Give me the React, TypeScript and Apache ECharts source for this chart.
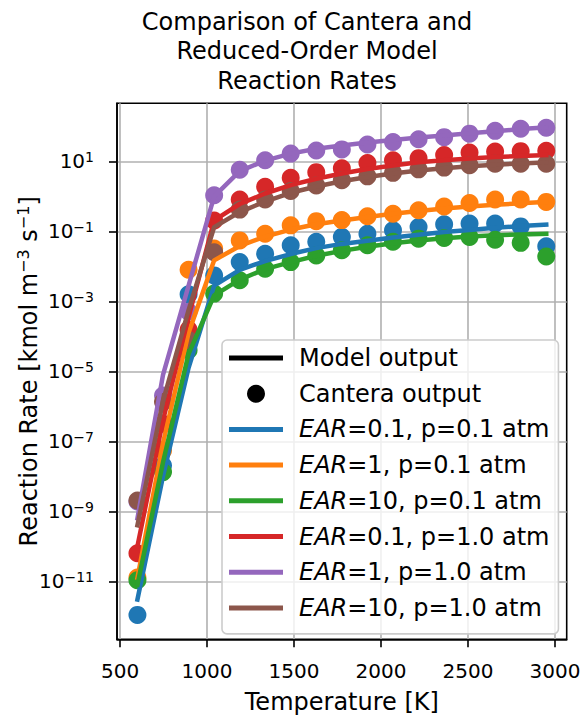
import React, { useEffect, useRef } from 'react';
import * as echarts from 'echarts';

// Temperatures [K] at which both model and Cantera were evaluated
const temperatureK = [600, 747, 894, 1041, 1188, 1334, 1481, 1628, 1775, 1922, 2069, 2216, 2363, 2509, 2656, 2803, 2950];

// Legend / case labels and colours
const caseNames = [
  'EAR=0.1, p=0.1 atm',
  'EAR=1, p=0.1 atm',
  'EAR=10, p=0.1 atm',
  'EAR=0.1, p=1.0 atm',
  'EAR=1, p=1.0 atm',
  'EAR=10, p=1.0 atm',
];
const caseColors = ['#1f77b4', '#ff7f0e', '#2ca02c', '#d62728', '#9467bd', '#8c564b'];

// Model output, log10 of reaction rate [kmol m^-3 s^-1]
const modelLogEAR01p01 = [-11.52, -8.0, -4.9, -2.55, -2.1, -1.85, -1.65, -1.48, -1.36, -1.27, -1.18, -1.1, -1.02, -0.96, -0.9, -0.85, -0.81];
const modelLogEAR1p01 = [-10.9, -7.05, -3.9, -1.83, -1.42, -1.15, -0.95, -0.8, -0.69, -0.59, -0.5, -0.42, -0.35, -0.29, -0.24, -0.2, -0.16];
const modelLogEAR10p01 = [-11.1, -7.6, -4.5, -2.83, -2.38, -2.08, -1.88, -1.7, -1.56, -1.44, -1.34, -1.26, -1.2, -1.15, -1.11, -1.09, -1.07];
const modelLogEAR01p1 = [-10.0, -6.4, -3.45, -0.69, -0.22, 0.08, 0.32, 0.5, 0.65, 0.78, 0.88, 0.97, 1.03, 1.08, 1.12, 1.15, 1.18];
const modelLogEAR1p1 = [-9.2, -5.1, -2.55, 0.0, 0.72, 1.02, 1.22, 1.36, 1.45, 1.54, 1.61, 1.68, 1.74, 1.8, 1.86, 1.92, 1.97];
const modelLogEAR10p1 = [-9.4, -5.85, -3.25, -0.88, -0.45, -0.15, 0.1, 0.28, 0.43, 0.55, 0.65, 0.74, 0.8, 0.86, 0.9, 0.94, 0.97];

// Cantera output, log10 of reaction rate [kmol m^-3 s^-1]
const canteraLogEAR01p01 = [-11.96, -7.69, -2.8, -2.26, -1.88, -1.64, -1.4, -1.3, -1.16, -1.07, -0.97, -0.88, -0.8, -0.78, -0.78, -0.86, -1.43];
const canteraLogEAR1p01 = [-10.89, -7.26, -2.1, -1.49, -1.26, -1.07, -0.83, -0.71, -0.68, -0.57, -0.5, -0.4, -0.29, -0.19, -0.09, -0.09, -0.16];
const canteraLogEAR10p01 = [-10.97, -7.88, -4.4, -2.78, -2.4, -2.07, -1.88, -1.69, -1.54, -1.4, -1.3, -1.21, -1.19, -1.16, -1.24, -1.33, -1.72];
const canteraLogEAR01p1 = [-10.2, -6.5, -3.81, -0.69, -0.09, 0.27, 0.53, 0.69, 0.8, 0.95, 1.03, 1.09, 1.18, 1.25, 1.28, 1.29, 1.3];
const canteraLogEAR1p1 = [-8.72, -5.69, -3.3, 0.03, 0.76, 1.03, 1.22, 1.31, 1.34, 1.48, 1.55, 1.63, 1.69, 1.79, 1.87, 1.93, 1.96];
const canteraLogEAR10p1 = [-8.69, -5.88, -4.11, -1.6, -0.38, -0.09, 0.15, 0.31, 0.46, 0.57, 0.67, 0.77, 0.82, 0.89, 0.93, 0.93, 0.93];

// Axis ticks
const xTickValues = [500, 1000, 1500, 2000, 2500, 3000];
const yTickExponents = [-11, -9, -7, -5, -3, -1, 1];

const modelSets = [modelLogEAR01p01, modelLogEAR1p01, modelLogEAR10p01, modelLogEAR01p1, modelLogEAR1p1, modelLogEAR10p1];
const canteraSets = [canteraLogEAR01p01, canteraLogEAR1p01, canteraLogEAR10p01, canteraLogEAR01p1, canteraLogEAR1p1, canteraLogEAR10p1];

const FONT = 'DejaVu Sans';
const LINE_ICON = 'path://M0,0H54V5H0Z';

export default function App() {
  const ref = useRef<HTMLDivElement>(null);

  useEffect(() => {
    if (!ref.current) return;
    const chart = echarts.init(ref.current, undefined, { renderer: 'svg' });

    const series: any[] = [];
    caseNames.forEach((name, i) => {
      series.push({
        name: 'Cantera ' + name,
        type: 'scatter',
        data: temperatureK.map((t, j) => [t, canteraSets[i][j]]),
        symbol: 'circle',
        symbolSize: 18,
        itemStyle: { color: caseColors[i], opacity: 1 },
        z: 2,
      });
    });
    caseNames.forEach((name, i) => {
      series.push({
        name,
        type: 'line',
        data: temperatureK.map((t, j) => [t, modelSets[i][j]]),
        showSymbol: false,
        symbol: 'none',
        itemStyle: { color: caseColors[i] },
        lineStyle: { color: caseColors[i], width: 4.5, join: 'round', cap: 'square' },
        z: 3,
      });
    });
    series.push({
      name: 'Model output',
      type: 'line',
      data: [],
      itemStyle: { color: '#000', opacity: 1 },
      lineStyle: { color: '#000' },
    });
    series.push({
      name: 'Cantera output',
      type: 'scatter',
      data: [],
      itemStyle: { color: '#000', opacity: 1 },
    });

    const axisLineStyle = { color: '#000', width: 1.6 };
    const supStyle = { fontFamily: FONT, fontSize: 14, color: '#000', verticalAlign: 'top', lineHeight: 14 };

    const option: any = {
      animation: false,
      backgroundColor: '#ffffff',
      title: {
        text: 'Comparison of Cantera and\nReduced-Order Model\nReaction Rates',
        left: 307,
        top: 7,
        textAlign: 'center',
        padding: 0,
        textStyle: { fontFamily: FONT, fontSize: 24, fontWeight: 'normal', color: '#000', lineHeight: 29.6 },
      },
      grid: {
        left: 117,
        right: 15.3,
        top: 103.3,
        bottom: 75.7,
        show: true,
        borderColor: '#000',
        borderWidth: 1.6,
        backgroundColor: 'transparent',
        containLabel: false,
        outerBoundsMode: 'none',
      },
      xAxis: {
        type: 'value',
        min: 482.5,
        max: 3067.5,
        name: 'Temperature [K]',
        nameLocation: 'middle',
        nameGap: 51,
        nameMoveOverlap: false,
        nameTextStyle: { fontFamily: FONT, fontSize: 24, color: '#000', lineHeight: 24 },
        axisLine: { show: true, onZero: false, lineStyle: axisLineStyle },
        axisTick: { show: true, inside: false, length: 8, lineStyle: axisLineStyle, customValues: xTickValues },
        axisLabel: {
          show: true,
          customValues: xTickValues,
          fontFamily: FONT,
          fontSize: 20,
          color: '#000',
          margin: 22,
          formatter: (v: number) => String(v),
        },
        splitLine: { show: true, lineStyle: { color: '#b0b0b0', width: 1.6 } },
      },
      yAxis: {
        type: 'value',
        min: -12.657,
        max: 2.657,
        name: 'Reaction Rate [kmol m{sup|−3} s{sup|−1}]',
        nameLocation: 'middle',
        nameGap: 74,
        nameMoveOverlap: false,
        nameRotate: 90,
        nameTextStyle: {
          fontFamily: FONT,
          fontSize: 24,
          color: '#000',
          lineHeight: 28,
          rich: { sup: { fontFamily: FONT, fontSize: 16, color: '#000', verticalAlign: 'top', lineHeight: 16 } },
        },
        axisLine: { show: true, onZero: false, lineStyle: axisLineStyle },
        axisTick: { show: true, inside: false, length: 8, lineStyle: axisLineStyle, customValues: yTickExponents },
        axisLabel: {
          show: true,
          customValues: yTickExponents,
          fontFamily: FONT,
          fontSize: 20,
          lineHeight: 22,
          color: '#000',
          margin: 23,
          formatter: (v: number) => '10{sup|' + (v < 0 ? '\u2212' + Math.abs(v) : String(v)) + '}',
          rich: { sup: supStyle },
        },
        splitLine: { show: true, lineStyle: { color: '#b0b0b0', width: 1.6 } },
      },
      legend: {
        show: true,
        orient: 'vertical',
        left: 222,
        top: 340,
        padding: [6, 9, 14, 7],
        itemWidth: 54,
        itemHeight: 18,
        itemGap: 11.7,
        backgroundColor: 'rgba(255,255,255,0.8)',
        borderColor: '#cccccc',
        borderWidth: 1.6,
        borderRadius: 5,
        selectedMode: false,
        symbolKeepAspect: true,
        data: [
          { name: 'Model output', icon: LINE_ICON, itemStyle: { color: '#000', opacity: 1 } },
          { name: 'Cantera output', icon: 'circle', itemStyle: { color: '#000', opacity: 1 } },
          ...caseNames.map((n) => ({ name: n, icon: LINE_ICON })),
        ],
        formatter: (name: string) => (name.startsWith('EAR') ? '{i|EAR}' + name.slice(3) : name),
        textStyle: {
          fontFamily: FONT,
          fontSize: 24,
          color: '#000',
          padding: [0, 0, 0, 11],
          rich: { i: { fontFamily: FONT, fontStyle: 'italic', fontSize: 24, color: '#000' } },
        },
      },
      series,
    };

    chart.setOption(option);
    return () => {
      chart.dispose();
    };
  }, []);

  return (
    <div
      ref={ref}
      style={{ position: 'absolute', left: 0, top: 0, width: 582, height: 715, background: '#fff' }}
    />
  );
}
